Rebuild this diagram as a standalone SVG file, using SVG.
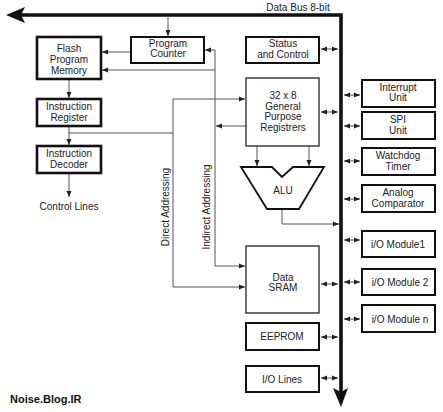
<svg xmlns="http://www.w3.org/2000/svg" width="443" height="412" viewBox="0 0 443 412">
<defs>
<marker id="ah" markerWidth="7" markerHeight="6" refX="6" refY="3" orient="auto" markerUnits="userSpaceOnUse">
<path d="M0,0.5 L6,3 L0,5.5 Z" fill="#222"/>
</marker>
<marker id="ahs" markerWidth="7" markerHeight="6" refX="0" refY="3" orient="auto" markerUnits="userSpaceOnUse">
<path d="M6,0.5 L0,3 L6,5.5 Z" fill="#222"/>
</marker>
<style>
.b{fill:#fff;stroke:#111;stroke-width:2}
.bt{fill:#fff;stroke:#111;stroke-width:2.6}
.bn{fill:#fff;stroke:#222;stroke-width:1.3}
.c{fill:none;stroke:#555;stroke-width:1}
.a{fill:none;stroke:#555;stroke-width:1;marker-end:url(#ah)}
.d{fill:none;stroke:#555;stroke-width:1;marker-end:url(#ah);marker-start:url(#ahs)}
text{font-family:"Liberation Sans",Arial,sans-serif;font-size:10px;fill:#222;text-anchor:middle}
</style>
</defs>
<rect width="443" height="412" fill="#fff"/>
<g id="bus">
<path d="M20,15 L341,15 L341,392" fill="none" stroke="#111" stroke-width="3.6"/>
<path d="M6,15 L25,7 L21,15 L25,23 Z" fill="#111"/>
<path d="M333,388 L341,392 L348,388 L341,407 Z" fill="#111"/>
<text x="298" y="11">Data Bus 8-bit</text>
</g>
<g id="connectors">
<line class="a" x1="168" y1="16" x2="168" y2="36"/>
<line class="a" x1="131" y1="52" x2="102" y2="52"/>
<line class="a" x1="246" y1="126" x2="216" y2="126"/>
<polyline class="a" points="215,126 215,50 205,50"/>
<polyline class="a" points="215,70 102,70"/>
<polyline class="a" points="215,126 215,266 245,266"/>
<line class="a" x1="69" y1="80" x2="69" y2="98"/>
<line class="a" x1="69" y1="127" x2="69" y2="145"/>
<line class="a" x1="69" y1="174" x2="69" y2="197"/>
<polyline class="c" points="69,133 173,133"/>
<polyline class="a" points="173,99 245,99"/>
<polyline class="a" points="173,99 173,287 245,287"/>
<line class="a" x1="257" y1="146" x2="257" y2="166"/>
<line class="a" x1="309" y1="146" x2="309" y2="166"/>
<polyline class="a" points="282,209 282,224 339,224"/>
<line class="d" x1="321" y1="49" x2="338" y2="49"/>
<line class="d" x1="321" y1="112" x2="338" y2="112"/>
<line class="d" x1="321" y1="284" x2="338" y2="284"/>
<line class="d" x1="321" y1="337" x2="338" y2="337"/>
<line class="d" x1="321" y1="378" x2="338" y2="378"/>
<line class="d" x1="344" y1="95" x2="360" y2="95"/>
<line class="d" x1="344" y1="126" x2="360" y2="126"/>
<line class="d" x1="344" y1="161" x2="360" y2="161"/>
<line class="d" x1="344" y1="199" x2="360" y2="199"/>
<line class="d" x1="344" y1="240" x2="360" y2="240"/>
<line class="d" x1="344" y1="282" x2="360" y2="282"/>
<line class="d" x1="344" y1="319" x2="360" y2="319"/>
<text transform="translate(169,207) rotate(-90)">Direct Addressing</text>
<text transform="translate(210,207) rotate(-90)">Indirect Addressing</text>
<text x="69" y="210">Control Lines</text>
</g>
<g id="flash">
<rect class="bt" x="37" y="37" width="64" height="42"/>
<text x="69" y="52">Flash</text><text x="69" y="63">Program</text><text x="69" y="74">Memory</text>
</g>
<g id="pc">
<rect class="b" x="131" y="37" width="73" height="26"/>
<text x="168" y="47">Program</text><text x="168" y="57">Counter</text>
</g>
<g id="ir">
<rect class="bt" x="37" y="99" width="64" height="27"/>
<text x="69" y="110">Instruction</text><text x="69" y="121">Register</text>
</g>
<g id="decoder">
<rect class="bt" x="37" y="146" width="64" height="27"/>
<text x="69" y="157">Instruction</text><text x="69" y="168">Decoder</text>
</g>
<g id="status">
<rect class="b" x="246" y="37" width="73" height="26"/>
<text x="283" y="47">Status</text><text x="283" y="58">and Control</text>
</g>
<g id="gpr">
<rect class="bn" x="246" y="78" width="73" height="68"/>
<text x="283" y="99">32 x 8</text><text x="283" y="110">General</text><text x="283" y="120">Purpose</text><text x="283" y="131">Registrers</text>
</g>
<g id="alu">
<path d="M241,167 L272,167 L282,177 L293,167 L324,167 L299,209 L267,209 Z" fill="#fff" stroke="#111" stroke-width="1.8"/>
<text x="283" y="194">ALU</text>
</g>
<g id="sram">
<rect class="bn" x="246" y="246" width="73" height="67"/>
<text x="283" y="281">Data</text><text x="283" y="291">SRAM</text>
</g>
<g id="eeprom">
<rect class="b" x="246" y="323" width="73" height="27"/>
<text x="282" y="340">EEPROM</text>
</g>
<g id="iolines">
<rect class="b" x="246" y="366" width="73" height="26"/>
<text x="282" y="383">I/O Lines</text>
</g>
<g id="interrupt">
<rect class="b" x="362" y="80" width="73" height="27"/>
<text x="398" y="91">Interrupt</text><text x="398" y="101">Unit</text>
</g>
<g id="spi">
<rect class="b" x="362" y="112" width="73" height="27"/>
<text x="398" y="123">SPI</text><text x="398" y="134">Unit</text>
</g>
<g id="watchdog">
<rect class="b" x="362" y="148" width="73" height="27"/>
<text x="398" y="159">Watchdog</text><text x="398" y="170">Timer</text>
</g>
<g id="analog">
<rect class="b" x="362" y="185" width="73" height="27"/>
<text x="398" y="196">Analog</text><text x="398" y="207">Comparator</text>
</g>
<g id="io1">
<rect class="b" x="362" y="231" width="73" height="26"/>
<text x="398" y="248">i/O Module1</text>
</g>
<g id="io2">
<rect class="b" x="362" y="269" width="73" height="26"/>
<text x="400" y="286">i/O Module 2</text>
</g>
<g id="ion">
<rect class="b" x="362" y="305" width="73" height="27"/>
<text x="400" y="323">i/O Module n</text>
</g>
<g id="watermark">
<text x="10" y="403" style="text-anchor:start;font-weight:bold;font-size:11px;fill:#111">Noise.Blog.IR</text>
</g>
</svg>
